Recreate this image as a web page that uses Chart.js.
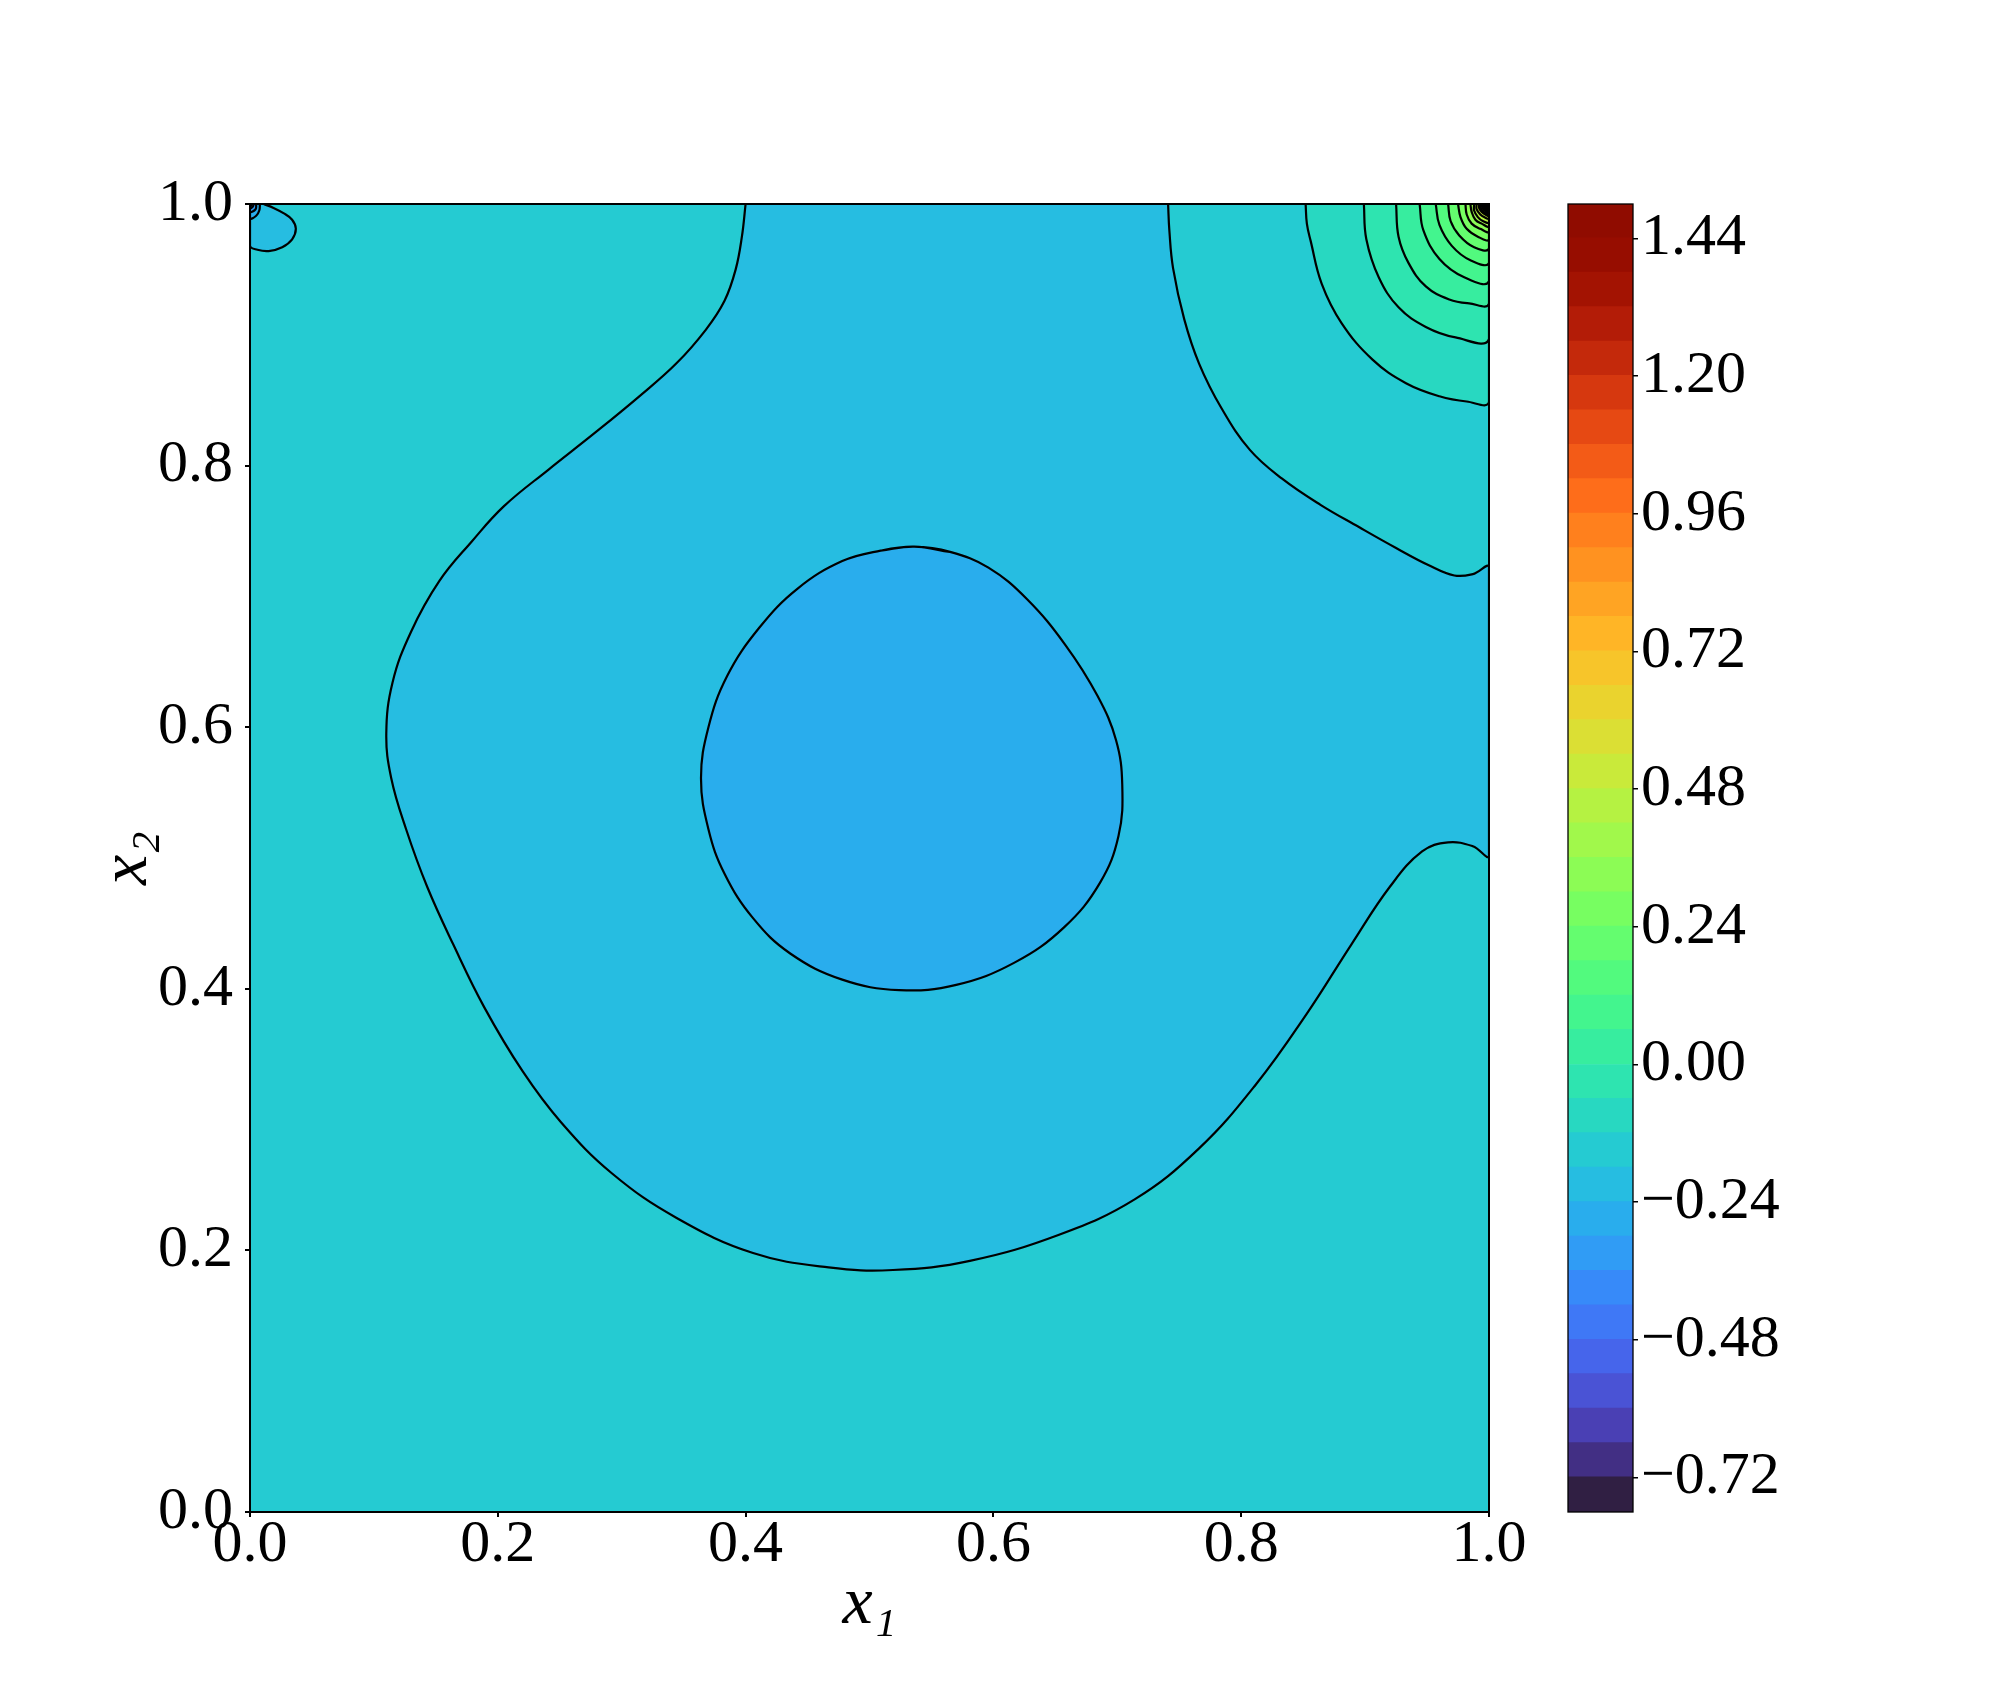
<!DOCTYPE html>
<html><head><meta charset="utf-8">
<script src="https://cdn.jsdelivr.net/npm/chart.js@4.4.1/dist/chart.umd.min.js"></script>
<style>
html,body{margin:0;padding:0;background:#fff;}
#wrap{position:relative;width:2000px;height:1700px;background:#fff;}
#main{position:absolute;left:0;top:0;}
#cbar{position:absolute;left:1540px;top:0;}
</style></head><body>
<div id="wrap"><canvas id="main" width="2000" height="1700"></canvas><canvas id="cbar" width="460" height="1700"></canvas></div>
<script>
// ---- contour levels (colorbar boundaries) ----
const levels = [-0.78,-0.72,-0.66,-0.60,-0.54,-0.48,-0.42,-0.36,-0.30,-0.24,-0.18,-0.12,-0.06,0.00,0.06,0.12,0.18,0.24,0.30,0.36,0.42,0.48,0.54,0.60,0.66,0.72,0.78,0.84,0.90,0.96,1.02,1.08,1.14,1.20,1.26,1.32,1.38,1.44,1.50];
const cbTicks = [-0.72,-0.48,-0.24,0.00,0.24,0.48,0.72,0.96,1.20,1.44];
const cbTickLabels = ['\u22120.72','\u22120.48','\u22120.24','0.00','0.24','0.48','0.72','0.96','1.20','1.44'];
const xTicks = [0,0.2,0.4,0.6,0.8,1.0];
const xTickLabels = ['0.0','0.2','0.4','0.6','0.8','1.0'];
const yTicks = [0,0.2,0.4,0.6,0.8,1.0];
const yTickLabels = ['0.0','0.2','0.4','0.6','0.8','1.0'];

// ---- regions: [x1, x2] points ----
// whole domain (band -0.18..-0.12)
const domain = [[0,0],[1,0],[1,1],[0,1]];
const domainBand = -0.18;
// region below -0.18 (central light-blue area)
const lowRegion = [[0.400,1.000],[0.397,0.975],[0.392,0.950],[0.383,0.926],[0.368,0.904],[0.344,0.878],[0.313,0.852],[0.277,0.824],[0.241,0.797],[0.205,0.769],[0.179,0.742],[0.153,0.712],[0.130,0.673],[0.115,0.634],[0.110,0.595],[0.114,0.561],[0.126,0.522],[0.143,0.478],[0.164,0.434],[0.189,0.386],[0.220,0.337],[0.251,0.298],[0.292,0.259],[0.344,0.225],[0.406,0.198],[0.467,0.187],[0.519,0.185],[0.581,0.192],[0.653,0.212],[0.714,0.239],[0.766,0.278],[0.812,0.327],[0.853,0.381],[0.889,0.434],[0.920,0.478],[0.946,0.505],[0.967,0.512],[0.987,0.509],[1.000,0.502],
 [1.000,0.722],[0.987,0.717],[0.972,0.716],[0.951,0.724],[0.925,0.737],[0.895,0.753],[0.864,0.770],[0.833,0.790],[0.807,0.812],[0.784,0.844],[0.766,0.878],[0.754,0.912],[0.745,0.951],[0.742,0.980],[0.741,1.000]];
const lowBand = -0.24;
// region below -0.24 (central blob, traced once round with a small overlap)
const blob = [[0.565,0.734],[0.536,0.738],[0.509,0.735],[0.478,0.727],[0.442,0.706],[0.411,0.676],[0.385,0.639],[0.370,0.600],[0.364,0.561],[0.370,0.522],[0.383,0.488],[0.406,0.454],[0.436,0.427],[0.478,0.407],[0.524,0.399],[0.570,0.403],[0.617,0.420],[0.657,0.447],[0.686,0.481],[0.701,0.517],[0.704,0.556],[0.699,0.590],[0.684,0.624],[0.658,0.663],[0.627,0.698],[0.596,0.722],[0.565,0.734],[0.536,0.738],[0.509,0.735]];
const blobBand = -0.30;
// top-left corner (values below each level)
const tlBands = [-0.24,-0.30,-0.36,-0.42,-0.48];
const tlContours = [
 [[0.011,1.0],[0.019,0.997],[0.027,0.993],[0.034,0.988],[0.037,0.981],[0.034,0.973],[0.026,0.967],[0.015,0.964],[0.006,0.965],[0.0,0.968],[0.0,1.0]],
 [[0.008,1.0],[0.0075,0.995],[0.005,0.991],[0.0,0.989],[0.0,1.0]],
 [[0.005,1.0],[0.0045,0.996],[0.0,0.994],[0.0,1.0]],
 [[0.003,1.0],[0.0022,0.9978],[0.0,0.9968],[0.0,1.0]],
 [[0.0016,1.0],[0.0011,0.9989],[0.0,0.9984],[0.0,1.0]]
];
// top-right corner (values above each level)
const trLevels = [-0.12,-0.06,0.00,0.06,0.12,0.18,0.24,0.30,0.36,0.42,0.48,0.54,0.60,0.66,0.72,0.78,0.84,0.90,0.96,1.02,1.08,1.14,1.20,1.26,1.32,1.38,1.44];
const trContours = [
 [[0.852,1.0],[0.853,0.985],[0.856,0.972],[0.865,0.939],[0.881,0.909],[0.906,0.881],[0.933,0.863],[0.960,0.853],[0.982,0.849],[1.0,0.849],[1,1]],
 [[0.899,1.0],[0.901,0.973],[0.911,0.944],[0.927,0.921],[0.949,0.906],[0.973,0.898],[1.0,0.897],[1,1]],
 [[0.925,1.0],[0.927,0.975],[0.935,0.955],[0.949,0.937],[0.968,0.927],[0.984,0.924],[1.0,0.924],[1,1]],
 [[0.944,1.0],[0.947,0.980],[0.960,0.958],[0.980,0.944],[1.0,0.941],[1,1]],
 [[0.957,1.0],[0.960,0.984],[0.970,0.968],[0.985,0.957],[1.0,0.955],[1,1]],
 [[0.967,1.0],[0.969,0.987],[0.976,0.976],[0.988,0.967],[1.0,0.966],[1,1]],
 [[0.975,1.0],[0.977,0.990],[0.982,0.981],[0.991,0.975],[1.0,0.973],[1,1]],
 [[0.981,1.0],[0.982,0.992],[0.986,0.985],[0.993,0.981],[1.0,0.979],[1,1]],
 [[0.985,1.0],[0.986,0.994],[0.989,0.988],[0.994,0.985],[1.0,0.983],[1,1]],
 [[0.988,1.0],[0.988,0.995],[0.991,0.990],[0.995,0.987],[1.0,0.986],[1,1]],
 [[0.990,1.0],[0.990,0.996],[0.993,0.992],[0.996,0.990],[1.0,0.989],[1,1]],
 [[0.992,1.0],[0.992,0.997],[0.994,0.994],[0.997,0.992],[1.0,0.991],[1,1]],
 [[0.9925,1.0],[0.9947,0.9947],[1.0,0.9925],[1,1]],
 [[0.9937,1.0],[0.9956,0.9956],[1.0,0.9937],[1,1]],
 [[0.9947,1.0],[0.9963,0.9963],[1.0,0.9947],[1,1]],
 [[0.9955,1.0],[0.9969,0.9969],[1.0,0.9955],[1,1]],
 [[0.9962,1.0],[0.9973,0.9973],[1.0,0.9962],[1,1]],
 [[0.9968,1.0],[0.9978,0.9978],[1.0,0.9968],[1,1]],
 [[0.9973,1.0],[0.9981,0.9981],[1.0,0.9973],[1,1]],
 [[0.9977,1.0],[0.9984,0.9984],[1.0,0.9977],[1,1]],
 [[0.9981,1.0],[0.9987,0.9987],[1.0,0.9981],[1,1]],
 [[0.9984,1.0],[0.9989,0.9989],[1.0,0.9984],[1,1]],
 [[0.9987,1.0],[0.9991,0.9991],[1.0,0.9987],[1,1]],
 [[0.9989,1.0],[0.9992,0.9992],[1.0,0.9989],[1,1]],
 [[0.9991,1.0],[0.9994,0.9994],[1.0,0.9991],[1,1]],
 [[0.9993,1.0],[0.9995,0.9995],[1.0,0.9993],[1,1]],
 [[0.9995,1.0],[0.9997,0.9997],[1.0,0.9995],[1,1]]
];

// ---- turbo colormap ----
function turbo(t){
  t=Math.min(1,Math.max(0,t));
  const x=t,x2=x*x,x3=x2*x,x4=x3*x,x5=x4*x;
  const r=0.13572138+4.61539260*x-42.66032258*x2+132.13108234*x3-152.94239396*x4+59.28637943*x5;
  const g=0.09140261+2.19418839*x+4.84296658*x2-14.18503333*x3+4.27729857*x4+2.82956604*x5;
  const b=0.10667330+12.64194608*x-60.58204836*x2+110.36276771*x3-89.90310912*x4+27.34824973*x5;
  const c=v=>Math.round(255*Math.min(1,Math.max(0,v)));
  return 'rgb('+c(r)+','+c(g)+','+c(b)+')';
}
const vmin=levels[0], vmax=levels[levels.length-1];
function bandIndex(lo){ return levels.findIndex(v=>Math.abs(v-lo)<1e-9); }
function bandColorIdx(i){ const mid=(levels[i]+levels[i+1])/2; return turbo((mid-vmin)/(vmax-vmin)); }
function bandColor(lo){ return bandColorIdx(bandIndex(lo)); }

Chart.defaults.font.family = "'Liberation Serif', serif";
Chart.defaults.color = '#000';

const framePlugin = { id:'frame', afterDraw(chart, args, opts){
  const {ctx, chartArea:a} = chart;
  ctx.save(); ctx.strokeStyle='#000'; ctx.lineWidth=opts.width||2;
  ctx.strokeRect(a.left, a.top, a.right-a.left, a.bottom-a.top); ctx.restore();
}};

// ---- build main datasets (bottom layer first) ----
const layers = [];
function addLayer(points, lo, opts){
  layers.push(Object.assign({
    data: points.map(p=>({x:p[0], y:p[1]})),
    backgroundColor: bandColor(lo),
    borderColor: '#000', borderWidth: 2.2,
    fill: 'shape', tension: 0.4, pointRadius: 0, pointHoverRadius: 0,
    borderJoinStyle: 'round', borderCapStyle: 'round', clip: 0
  }, opts||{}));
}
addLayer(domain, domainBand, {tension:0, borderWidth:0});
addLayer(lowRegion, lowBand);
addLayer(blob, blobBand);
tlContours.forEach((c,i)=>addLayer(c, tlBands[i]));
trContours.forEach((c,i)=>addLayer(c, trLevels[i]));
layers.forEach((d,i)=>{ d.order = layers.length - i; });

const tickFont = {family:"'Liberation Serif', serif", size:60, lineHeight:0.9};
new Chart(document.getElementById('main'), {
  type:'line',
  data:{datasets: layers},
  plugins:[framePlugin],
  options:{
    responsive:false, animation:false, devicePixelRatio:1,
    events:[],
    layout:{padding:{left:0, top:204, right:511, bottom:0}},
    plugins:{legend:{display:false}, tooltip:{enabled:false}, frame:{width:2}},
    scales:{
      x:{type:'linear', position:'bottom', min:0, max:1,
        afterBuildTicks:s=>{ s.ticks = xTicks.map(v=>({value:v})); },
        afterFit:s=>{ s.height = 188; },
        ticks:{font:tickFont, color:'#000', padding:1, maxRotation:0, autoSkip:false,
          callback:(v,i)=>xTickLabels[i]},
        grid:{display:true, drawOnChartArea:false, drawTicks:true, tickLength:5, color:'#000', lineWidth:2},
        border:{display:true, color:'#000', width:2},
        title:{display:true, text:'x\u2081', color:'#000',
          font:{family:"'Liberation Serif', serif", style:'italic', size:68, lineHeight:1.2},
          padding:{top:0, bottom:54}}
      },
      y:{type:'linear', position:'left', min:0, max:1,
        afterBuildTicks:s=>{ s.ticks = yTicks.map(v=>({value:v})); },
        afterFit:s=>{ s.width = 250; },
        ticks:{font:tickFont, color:'#000', padding:12, autoSkip:false,
          callback:(v,i)=>yTickLabels[i]},
        grid:{display:true, drawOnChartArea:false, drawTicks:true, tickLength:5, color:'#000', lineWidth:2},
        border:{display:true, color:'#000', width:2},
        title:{display:true, text:'x\u2082', color:'#000',
          font:{family:"'Liberation Serif', serif", style:'italic', size:68, lineHeight:1.2},
          padding:{top:87, bottom:0}}
      }
    }
  }
});

// ---- colorbar ----
const cbDatasets = [];
for (let i=0;i<levels.length-1;i++){
  cbDatasets.push({data:[[levels[i], levels[i+1]]], backgroundColor: bandColorIdx(i),
    borderWidth:0, barPercentage:1, categoryPercentage:1, grouped:false, inflateAmount:1});
}
new Chart(document.getElementById('cbar'), {
  type:'bar',
  data:{labels:[''], datasets: cbDatasets},
  plugins:[framePlugin],
  options:{
    responsive:false, animation:false, devicePixelRatio:1,
    events:[],
    layout:{padding:{left:28, top:204, right:0, bottom:188}},
    plugins:{legend:{display:false}, tooltip:{enabled:false}, frame:{width:1.3}},
    scales:{
      x:{display:false},
      y:{type:'linear', position:'right', min:vmin, max:vmax,
        afterBuildTicks:s=>{ s.ticks = cbTicks.map(v=>({value:v})); },
        afterFit:s=>{ s.width = 367; },
        ticks:{font:{family:"'Liberation Serif', serif", size:60, lineHeight:1}, color:'#000', padding:3, autoSkip:false,
          callback:(v,i)=>cbTickLabels[i]},
        grid:{display:true, drawOnChartArea:false, drawTicks:true, tickLength:5, color:'#000', lineWidth:1.5},
        border:{display:false}
      }
    }
  }
});
</script>
</body></html>
